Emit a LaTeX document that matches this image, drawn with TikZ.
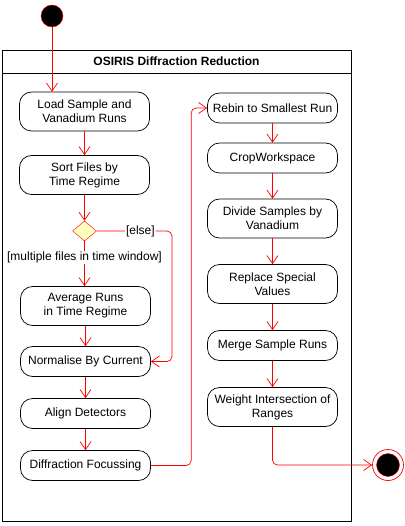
\documentclass[tikz,border=0pt]{standalone}
\usepackage{fontspec}
\setmainfont{Liberation Sans}
\usetikzlibrary{shapes.geometric,arrows.meta,calc}
\definecolor{decfill}{HTML}{FFFFC0}

\tikzset{
    action/.style={draw, line width=0.7pt, rounded corners=12pt, minimum width=130pt,
        minimum height=30pt, align=center, inner sep=2pt},
    action2/.style={action, minimum height=39pt},
    flow/.style={draw=red, line width=0.7pt, -{Straight Barb[length=8pt,width=11pt,line width=0.7pt]}},
    guard/.style={fill=white, inner sep=1pt}
}

\begin{document}
\begin{tikzpicture}[x=1pt, y=-1pt, font=\fontsize{12}{14}\selectfont]
        \useasboundingbox (0,0) rectangle (404,526);

        % Frame
        \draw[line width=0.7pt] (2,50) rectangle (351,521);
        \draw[line width=0.7pt] (2,73) -- (351,73);
        \node[font=\bfseries\fontsize{12}{14}\selectfont] (title) at (176.5,61.5) {OSIRIS Diffraction Reduction};

        % Start / end
        \node[circle, fill=black, draw=red, minimum size=22pt, inner sep=0pt] (start) at (52,16) {};
        \node[circle, draw=red, line width=0.7pt, minimum size=31pt, inner sep=0pt] (end) at (388,465) {};
        \node[circle, fill=black, draw=red, minimum size=23pt, inner sep=0pt] (endin) at (388,465) {};

        % Left column
        \node[action2] (load) at (84.5,111.5) {Load Sample and\\Vanadium Runs};
        \node[action2] (sort) at (84.5,175) {Sort Files by\\Time Regime};
        \node[diamond, draw=red, fill=decfill, minimum width=24pt, minimum height=20pt, inner sep=0pt] (dec) at (84.5,231) {};
        \node[action2] (avg) at (85.5,306) {Average Runs\\in Time Regime};
        \node[action] (norm) at (85.5,361.5) {Normalise By Current};
        \node[action] (align) at (85.5,413.5) {Align Detectors};
        \node[action] (focus) at (85.5,465.5) {Diffraction Focussing};

        % Right column
        \node[action] (rebin) at (272.5,108) {Rebin to Smallest Run};
        \node[action] (crop) at (272.5,158) {CropWorkspace};
        \node[action2] (divide) at (272.5,218.5) {Divide Samples by\\Vanadium};
        \node[action2] (replace) at (272.5,284) {Replace Special\\Values};
        \node[action] (merge) at (272.5,345.5) {Merge Sample Runs};
        \node[action2] (weight) at (272.5,407) {Weight Intersection of\\Ranges};

        \coordinate (elsecorner) at (172,361.5);

        % Flow
        \draw[flow] (start) -- (load.north -| start);
        \draw[flow] (load) -- (sort);
        \draw[flow] (sort) -- (dec);
        \draw[flow] (dec.south) -- (avg.north -| dec.south)
            node[guard, pos=0.36] (multi) {[multiple files in time window]};
        \draw[flow, rounded corners=5pt] (dec.east) -| node[guard, pos=0.29] (else) {[else]}
            (elsecorner) -- (norm.east);
        \draw[flow] (avg.south -| norm.north) -- (norm.north);
        \draw[flow] (norm) -- (align);
        \draw[flow] (align) -- (focus);
        \draw[flow, rounded corners=5pt] (focus.east) -| ($(rebin.west)+(-16,0)$) -- (rebin.west);
        \draw[flow] (rebin) -- (crop);
        \draw[flow] (crop) -- (divide);
        \draw[flow] (divide) -- (replace);
        \draw[flow] (replace) -- (merge);
        \draw[flow] (merge) -- (weight);
        \draw[flow, rounded corners=5pt] (weight.south) |- (end.west);

    \end{tikzpicture}
\end{document}
